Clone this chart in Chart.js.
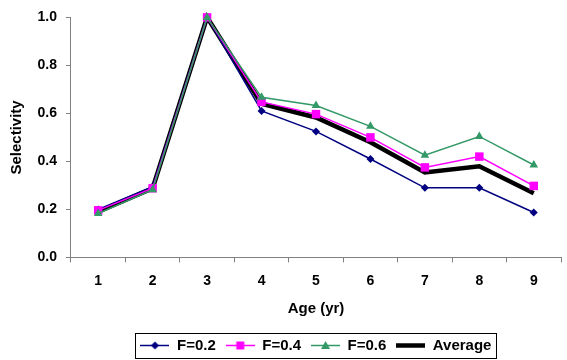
<!DOCTYPE html>
<html>
<head>
<meta charset="utf-8">
<script src="https://cdn.jsdelivr.net/npm/chart.js@4.4.1/dist/chart.umd.min.js"></script>
<style>
  html, body { margin: 0; padding: 0; background: #fff; }
  #wrap { width: 567px; height: 360px; }
</style>
</head>
<body>
<div id="wrap"><canvas id="chart"></canvas></div>
<script>
// Données
const ages = ['1', '2', '3', '4', '5', '6', '7', '8', '9'];
const selF02 = [0.200, 0.295, 1.0, 0.610, 0.525, 0.410, 0.290, 0.290, 0.187];
const selF04 = [0.196, 0.288, 1.0, 0.648, 0.597, 0.500, 0.375, 0.420, 0.298];
const selF06 = [0.183, 0.282, 1.0, 0.667, 0.633, 0.546, 0.426, 0.504, 0.385];
const selAvg = [0.190, 0.288, 1.0, 0.640, 0.583, 0.480, 0.354, 0.380, 0.267];

const FONT = '"Liberation Sans", Arial, sans-serif';

// Petite image "ligne + marqueur" pour la légende
function makeSwatch(color, lineWidth, marker) {
  const c = document.createElement('canvas');
  c.width = 29;
  c.height = 15;
  const g = c.getContext('2d');
  g.strokeStyle = color;
  g.lineWidth = lineWidth;
  g.beginPath();
  g.moveTo(0, 7.5);
  g.lineTo(29, 7.5);
  g.stroke();
  g.fillStyle = color;
  g.beginPath();
  if (marker === 'rectRot') {
    g.moveTo(14.5, 3.5); g.lineTo(18.5, 7.5); g.lineTo(14.5, 11.5); g.lineTo(10.5, 7.5);
  } else if (marker === 'rect') {
    g.rect(10.5, 3.5, 8, 8);
  } else if (marker === 'triangle') {
    g.moveTo(14.5, 3); g.lineTo(19, 11); g.lineTo(10, 11);
  }
  g.closePath();
  g.fill();
  return c;
}

const series = [
  { label: 'F=0.2', data: selF02, color: '#000080', width: 1.5, marker: 'rectRot', radius: 4, order: 3 },
  { label: 'F=0.4', data: selF04, color: '#FF00FF', width: 1.5, marker: 'rect', radius: 6, order: 2 },
  { label: 'F=0.6', data: selF06, color: '#339966', width: 1.5, marker: 'triangle', radius: 5, order: 1 },
  { label: 'Average', data: selAvg, color: '#000000', width: 4.5, marker: false, radius: 0, order: 4 }
];

const swatches = series.map(s => makeSwatch(s.color, s.width, s.marker));

// Cadre autour de la légende
const legendFrame = {
  id: 'legendFrame',
  afterDraw(chart) {
    const boxes = chart.legend && chart.legend.legendHitBoxes;
    if (!boxes || !boxes.length) return;
    const left = Math.min(...boxes.map(b => b.left)) - 5;
    const right = Math.max(...boxes.map(b => b.left + b.width)) + 5;
    const mid = boxes[0].top + boxes[0].height / 2;
    const ctx = chart.ctx;
    ctx.save();
    ctx.strokeStyle = '#000';
    ctx.lineWidth = 1;
    ctx.strokeRect(Math.round(left) + 0.5, Math.round(mid - 12.5) + 0.5,
      Math.round(right - left), 25);
    ctx.restore();
  }
};

new Chart(document.getElementById('chart'), {
  type: 'line',
  data: {
    labels: ages,
    datasets: series.map(s => ({
      label: s.label,
      data: s.data,
      borderColor: s.color,
      backgroundColor: s.color,
      borderWidth: s.width,
      pointStyle: s.marker,
      pointRadius: s.radius,
      pointBorderWidth: 0,
      pointBackgroundColor: s.color,
      tension: 0,
      order: s.order,
      clip: false
    }))
  },
  options: {
    responsive: true,
    maintainAspectRatio: false,
    animation: false,
    layout: { padding: { top: 16, right: 2, bottom: -3, left: 3 } },
    plugins: {
      tooltip: { enabled: false },
      legend: {
        position: 'bottom',
        fullSize: false,
        labels: {
          usePointStyle: true,
          pointStyleWidth: 29,
          boxHeight: 15,
          padding: 10,
          color: '#000',
          font: { family: FONT, size: 15, weight: 'bold' },
          generateLabels: (chart) => chart.data.datasets.map((ds, i) => ({
            text: ds.label,
            pointStyle: swatches[i],
            fillStyle: 'transparent',
            strokeStyle: 'transparent',
            lineWidth: 0,
            hidden: false,
            datasetIndex: i,
            fontColor: '#000'
          }))
        }
      }
    },
    scales: {
      x: {
        type: 'category',
        offset: true,
        grid: {
          offset: true,
          drawOnChartArea: false,
          tickLength: 5,
          color: '#808080'
        },
        border: { color: '#808080', width: 1 },
        ticks: {
          color: '#000',
          padding: 10.4,
          maxRotation: 0,
          font: { family: FONT, size: 14, weight: 'bold' }
        },
        title: {
          display: true,
          text: 'Age (yr)',
          color: '#000',
          font: { family: FONT, size: 15, weight: 'bold' },
          padding: { top: 0, bottom: 10 }
        }
      },
      y: {
        min: 0,
        max: 1,
        grid: {
          drawOnChartArea: false,
          tickLength: 5,
          color: '#808080'
        },
        border: { color: '#808080', width: 1 },
        ticks: {
          stepSize: 0.2,
          color: '#000',
          padding: 9,
          font: { family: FONT, size: 14, weight: 'bold' },
          callback: (v) => Number(v).toFixed(1)
        },
        title: {
          display: true,
          text: 'Selectivity',
          color: '#000',
          font: { family: FONT, size: 15, weight: 'bold' },
          padding: { top: 5, bottom: 2.5 }
        }
      }
    }
  },
  plugins: [legendFrame]
});
</script>
</body>
</html>
